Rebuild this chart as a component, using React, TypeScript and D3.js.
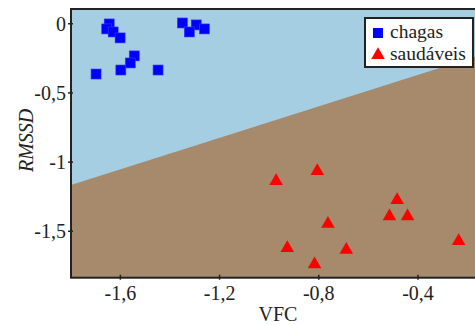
import React, { useEffect, useRef } from "react";
import * as d3 from "d3";

// chagas group (squares)
const chagasVFC = [-1.643, -1.653, -1.627, -1.599, -1.542, -1.558, -1.596, -1.696, -1.446, -1.348, -1.292, -1.320, -1.259];
const chagasRMSSD = [-0.005, -0.041, -0.063, -0.106, -0.236, -0.287, -0.338, -0.367, -0.338, 0.002, -0.012, -0.063, -0.041];

// healthy group (triangles)
const saudVFC = [-0.970, -0.804, -0.761, -0.925, -0.687, -0.815, -0.482, -0.513, -0.440, -0.234];
const saudRMSSD = [-1.140, -1.068, -1.449, -1.625, -1.637, -1.743, -1.278, -1.396, -1.396, -1.574];

// decision boundary (two points on the line)
const boundaryX = [-1.797, -0.298];
const boundaryY = [-1.169, -0.316];

const xTicks = [-1.6, -1.2, -0.8, -0.4];
const yTicks = [0, -0.5, -1, -1.5];
const legendLabels = ["chagas", "saudáveis"];

const W = 475;
const H = 325;

export default function App() {
    const ref = useRef<SVGSVGElement>(null);

    useEffect(() => {
        const svg = d3.select(ref.current);
        svg.selectAll("*").remove();

        const left = 71, top = 9, right = 477, bottom = 277.7;
        const font = "Liberation Serif";
        const ink = "#222";

        const x = d3.scaleLinear().domain([-1.797, -0.16]).range([left, right]);
        const y = d3.scaleLinear().domain([0.103, -1.839]).range([top, bottom]);

        const [x0, x1] = x.domain();
        const slope = (boundaryY[1] - boundaryY[0]) / (boundaryX[1] - boundaryX[0]);
        const lineAt = (v: number) => boundaryY[0] + (v - boundaryX[0]) * slope;

        svg.append("defs").append("clipPath").attr("id", "plotclip")
            .append("rect")
            .attr("x", left).attr("y", top)
            .attr("width", right - left).attr("height", bottom - top);

        const plot = svg.append("g").attr("clip-path", "url(#plotclip)");

        // regions
        plot.append("rect")
            .attr("x", left).attr("y", top)
            .attr("width", right - left).attr("height", bottom - top)
            .attr("fill", "#a68a6b");

        const topY = y.domain()[0];
        const above: [number, number][] = [
            [x0, topY], [x0, lineAt(x0)], [x1, lineAt(x1)], [x1, topY],
        ];
        plot.append("path")
            .attr("d", d3.line<[number, number]>().x(d => x(d[0])).y(d => y(d[1]))(above) + "Z")
            .attr("fill", "#a6cee3");

        // squares
        const sq = 10;
        plot.selectAll("rect.chagas")
            .data(chagasVFC.map((v, i) => [v, chagasRMSSD[i]]))
            .enter().append("rect")
            .attr("class", "chagas")
            .attr("x", d => x(d[0]) - sq / 2)
            .attr("y", d => y(d[1]) - sq / 2)
            .attr("width", sq).attr("height", sq)
            .attr("fill", "#0000ff")
            .attr("stroke", "#3a3aff").attr("stroke-width", 0.6);

        // triangles
        const tri = d3.symbol().type(d3.symbolTriangle).size(80);
        plot.selectAll("path.saud")
            .data(saudVFC.map((v, i) => [v, saudRMSSD[i]]))
            .enter().append("path")
            .attr("class", "saud")
            .attr("d", tri)
            .attr("transform", d => `translate(${x(d[0])},${y(d[1])})`)
            .attr("fill", "#ff0000");

        // frame
        svg.append("rect")
            .attr("x", left).attr("y", top)
            .attr("width", right - left).attr("height", bottom - top)
            .attr("fill", "none").attr("stroke", ink).attr("stroke-width", 2);

        // axes
        const xAxis = svg.append("g")
            .attr("transform", `translate(0,${bottom})`)
            .call(d3.axisBottom(x).tickValues(xTicks).tickSize(5).tickSizeOuter(0)
                .tickFormat(d => String(d).replace(".", ",")));
        xAxis.attr("font-family", null).attr("font-size", null);
        xAxis.select(".domain").remove();
        xAxis.selectAll("line").attr("stroke", ink).attr("stroke-width", 1.5)
            .attr("y1", -3).attr("y2", 2);
        xAxis.selectAll("text")
            .style("font-family", font).style("font-size", "20px").attr("fill", ink)
            .attr("dy", null).attr("y", 22);

        const yAxis = svg.append("g")
            .attr("transform", `translate(${left},0)`)
            .call(d3.axisLeft(y).tickValues(yTicks).tickSize(5).tickSizeOuter(0)
                .tickFormat(d => String(d).replace(".", ",")));
        yAxis.attr("font-family", null).attr("font-size", null);
        yAxis.select(".domain").remove();
        yAxis.selectAll("line").attr("stroke", ink).attr("stroke-width", 1.5)
            .attr("x1", 2).attr("x2", -3);
        yAxis.selectAll("text")
            .style("font-family", font).style("font-size", "20px").attr("fill", ink)
            .attr("x", -5).attr("dy", "0.35em");

        // axis labels
        svg.append("text")
            .attr("x", 278).attr("y", 321)
            .attr("text-anchor", "middle")
            .style("font-family", font).style("font-size", "20px").attr("fill", ink)
            .text("VFC");

        svg.append("text")
            .attr("transform", `translate(33,${(top + bottom) / 2 - 3}) rotate(-90)`)
            .attr("text-anchor", "middle")
            .style("font-family", font).style("font-size", "20px").style("font-style", "italic").attr("fill", ink)
            .text("RMSSD");

        // legend
        const lg = svg.append("g");
        lg.append("rect")
            .attr("x", 365).attr("y", 18).attr("width", 108).attr("height", 49)
            .attr("fill", "white").attr("stroke", ink).attr("stroke-width", 2);
        lg.append("rect")
            .attr("x", 373).attr("y", 28).attr("width", 10).attr("height", 10)
            .attr("fill", "#0000ff");
        lg.append("path")
            .attr("d", tri)
            .attr("transform", "translate(378,55)")
            .attr("fill", "#ff0000");
        lg.selectAll("text.lab")
            .data(legendLabels)
            .enter().append("text")
            .attr("class", "lab")
            .attr("x", 390)
            .attr("y", (d, i) => 38 + i * 22)
            .style("font-family", font).style("font-size", "19.5px").attr("fill", ink)
            .text(d => d);
    }, []);

    return (
        <svg ref={ref} width={W} height={H}
            style={{ position: "absolute", left: 0, top: 0, background: "white" }} />
    );
}
